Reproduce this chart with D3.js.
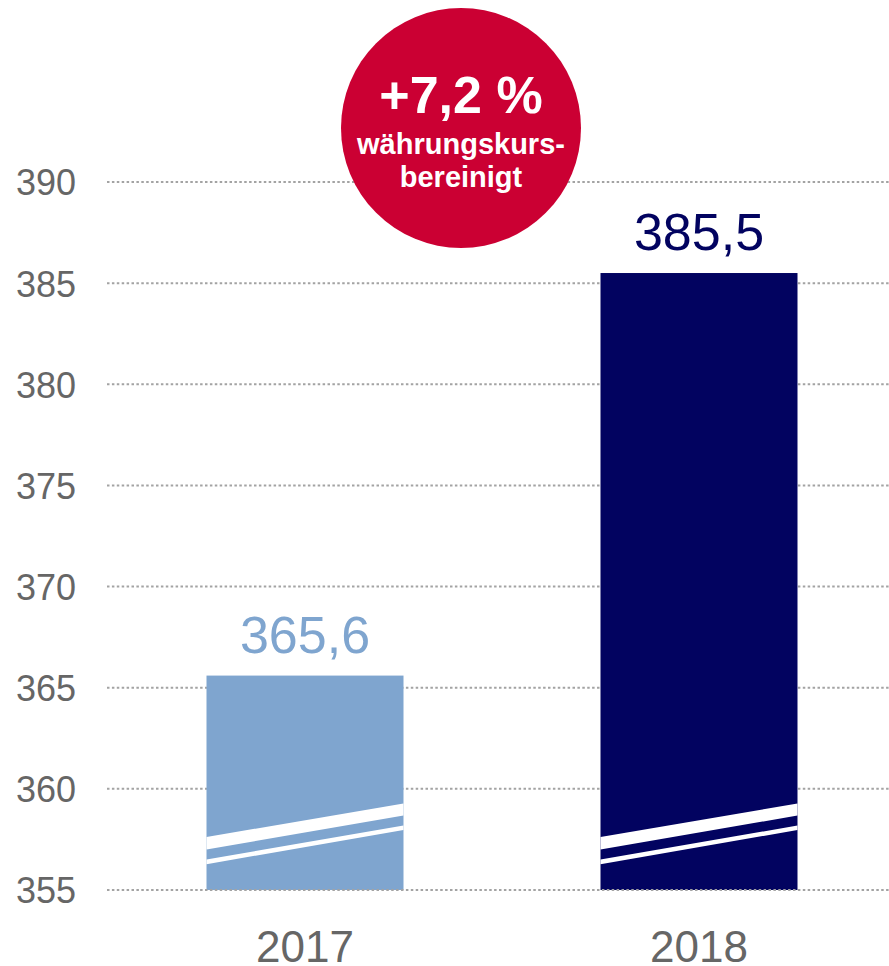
<!DOCTYPE html>
<html>
<head>
<meta charset="utf-8">
<script src="https://cdn.jsdelivr.net/npm/d3@7"></script>
<style>
  body { margin: 0; background: #fff; }
  svg { display: block; font-family: "Liberation Sans", Arial, sans-serif; }
</style>
</head>
<body>
<svg id="chart" width="889" height="966"></svg>
<script>
// data
var years = ["2017", "2018"];
var values = [365.6, 385.5];
var valueLabels = ["365,6", "385,5"];
var tickValues = [355, 360, 365, 370, 375, 380, 385, 390];
var badgeLines = ["+7,2 %", "währungskurs-", "bereinigt"];

var barColors = ["#7fa5cf", "#020360"];

var svg = d3.select("#chart"),
    width = +svg.attr("width"),
    height = +svg.attr("height");

var y = d3.scaleLinear()
    .domain([355, 390])
    .range([890, 182]);

var x = d3.scaleBand()
    .domain(years)
    .range([108, 896])
    .paddingInner(0.5)
    .paddingOuter(0.25);

// grid lines (baseline drawn later, on top of the bars)
var grid = svg.append("g");
grid.selectAll("line")
    .data(tickValues.filter(function(d) { return d !== 355; }))
    .enter()
    .append("line")
    .attr("x1", 107)
    .attr("x2", width)
    .attr("y1", function(d) { return y(d); })
    .attr("y2", function(d) { return y(d); })
    .attr("stroke", "#a3a3a3")
    .attr("stroke-width", 2)
    .attr("stroke-dasharray", "2.5,2.4");

// y axis labels
var yAxis = d3.axisLeft(y)
    .tickValues(tickValues)
    .tickSize(0)
    .tickPadding(0)
    .tickFormat(d3.format("d"));

var axisG = svg.append("g")
    .attr("transform", "translate(76,0)")
    .call(yAxis);
axisG.select(".domain").remove();
axisG.selectAll("text")
    .attr("font-size", 36)
    .attr("fill", "#666")
    .attr("font-family", "Liberation Sans, Arial, sans-serif")
    .attr("dy", "0.36em");

// bars
var data = years.map(function(yr, i) {
    return { year: yr, value: values[i], label: valueLabels[i], color: barColors[i] };
});

var bars = svg.append("g");
bars.selectAll("rect")
    .data(data)
    .enter()
    .append("rect")
    .attr("x", function(d) { return x(d.year); })
    .attr("width", x.bandwidth())
    .attr("y", function(d) { return y(d.value); })
    .attr("height", function(d) { return y(355) - y(d.value); })
    .attr("fill", function(d) { return d.color; });

// axis break: two white slanted stripes across each bar
var base = y(355);
var stripes = [
    { l0: -53, l1: -40.5, r0: -86.5, r1: -74.5 },
    { l0: -30.5, l1: -25.8, r0: -64.5, r1: -60 }
];
data.forEach(function(d) {
    var x0 = x(d.year), x1 = x0 + x.bandwidth();
    stripes.forEach(function(s) {
        svg.append("polygon")
            .attr("points", [
                [x0, base + s.l0], [x1, base + s.r0],
                [x1, base + s.r1], [x0, base + s.l1]
            ].map(function(p) { return p.join(","); }).join(" "))
            .attr("fill", "#fff");
    });
});

// baseline
svg.append("line")
    .attr("x1", 107)
    .attr("x2", width)
    .attr("y1", y(355))
    .attr("y2", y(355))
    .attr("stroke", "#a3a3a3")
    .attr("stroke-width", 2)
    .attr("stroke-dasharray", "2.5,2.4");

// value labels
svg.append("g").selectAll("text")
    .data(data)
    .enter()
    .append("text")
    .attr("x", function(d) { return x(d.year) + x.bandwidth() / 2; })
    .attr("y", function(d) { return y(d.value) - 23; })
    .attr("text-anchor", "middle")
    .attr("font-size", 52)
    .attr("fill", function(d) { return d.color; })
    .text(function(d) { return d.label; });

// year labels
svg.append("g").selectAll("text")
    .data(data)
    .enter()
    .append("text")
    .attr("x", function(d) { return x(d.year) + x.bandwidth() / 2; })
    .attr("y", 962)
    .attr("text-anchor", "middle")
    .attr("font-size", 44)
    .attr("fill", "#666")
    .text(function(d) { return d.year; });

// red badge
var badge = svg.append("g").attr("transform", "translate(461,128)");
badge.append("circle")
    .attr("r", 120)
    .attr("fill", "#cb0033");
badge.append("text")
    .attr("y", -15)
    .attr("text-anchor", "middle")
    .attr("font-size", 52)
    .attr("font-weight", "bold")
    .attr("fill", "#fff")
    .text(badgeLines[0]);
badge.append("text")
    .attr("y", 26)
    .attr("text-anchor", "middle")
    .attr("font-size", 29)
    .attr("font-weight", "bold")
    .attr("fill", "#fff")
    .text(badgeLines[1]);
badge.append("text")
    .attr("y", 59)
    .attr("text-anchor", "middle")
    .attr("font-size", 29)
    .attr("font-weight", "bold")
    .attr("fill", "#fff")
    .text(badgeLines[2]);
</script>
</body>
</html>
